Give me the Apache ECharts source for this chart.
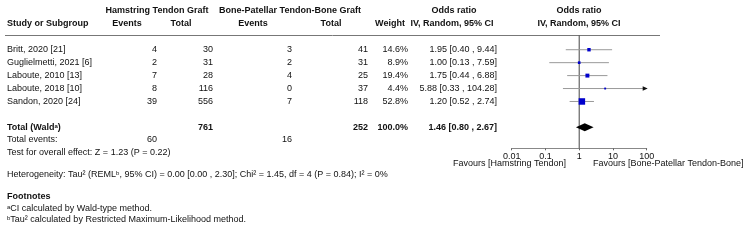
<!DOCTYPE html>
<html>
<head>
<meta charset="utf-8">
<script src="https://cdn.jsdelivr.net/npm/echarts@6/dist/echarts.min.js"></script>
<style>
  html, body { margin: 0; padding: 0; background: #fff; }
  #forest { width: 750px; height: 246px; }
</style>
</head>
<body>
<div id="forest"></div>
<script>
// study rows
const studies = ['Britt, 2020 [21]', 'Guglielmetti, 2021 [6]', 'Laboute, 2010 [13]', 'Laboute, 2018 [10]', 'Sandon, 2020 [24]']
const htEvents = [4, 2, 7, 8, 39]
const htTotal = [30, 31, 28, 116, 556]
const bptbEvents = [3, 2, 4, 0, 7]
const bptbTotal = [41, 31, 25, 37, 118]
const weights = [14.6, 8.9, 19.4, 4.4, 52.8]
const oddsRatio = [1.95, 1.00, 1.75, 5.88, 1.20]
const ciLow = [0.40, 0.13, 0.44, 0.33, 0.52]
const ciHigh = [9.44, 7.59, 6.88, 104.28, 2.74]

// pooled result
const pooled = { or: 1.46, lo: 0.80, hi: 2.67 }
const htTotalAll = 761
const bptbTotalAll = 252
const htEventsAll = 60
const bptbEventsAll = 16

// axis
const axisTicks = [0.01, 0.1, 1, 10, 100]

const FONT = '"Liberation Sans", Arial, Helvetica, sans-serif'
const rowY = [50, 62.9, 75.8, 88.7, 101.6]
const totalY = 127.4

function txt(text, x, y, align, bold) {
  return {
    type: 'text',
    x: x, y: y,
    silent: true,
    style: {
      text: String(text),
      fontSize: 9,
      fontFamily: FONT,
      fontWeight: bold ? 'bold' : 'normal',
      fill: '#111',
      align: align || 'left',
      verticalAlign: 'middle'
    }
  }
}

function fmt(v) { return v.toFixed(2) }

const supRich = {
  sup: { fontSize: 6, fontFamily: FONT, verticalAlign: 'top', fill: '#111' },
  supb: { fontSize: 6, fontFamily: FONT, fontWeight: 'bold', verticalAlign: 'top', fill: '#111' }
}

function richTxt(text, x, y, bold) {
  const t = txt(text, x, y, 'left', bold)
  t.style.rich = supRich
  return t
}

const texts = []
// headers
texts.push(txt('Hamstring Tendon Graft', 157, 11, 'center', true))
texts.push(txt('Bone-Patellar Tendon-Bone Graft', 290, 11, 'center', true))
texts.push(txt('Odds ratio', 454, 11, 'center', true))
texts.push(txt('Odds ratio', 579, 11, 'center', true))
texts.push(txt('Study or Subgroup', 7, 24, 'left', true))
texts.push(txt('Events', 127, 24, 'center', true))
texts.push(txt('Total', 181, 24, 'center', true))
texts.push(txt('Events', 253, 24, 'center', true))
texts.push(txt('Total', 331, 24, 'center', true))
texts.push(txt('Weight', 390, 24, 'center', true))
texts.push(txt('IV, Random, 95% CI', 452, 24, 'center', true))
texts.push(txt('IV, Random, 95% CI', 579, 24, 'center', true))

// rows
studies.forEach((s, i) => {
  const y = rowY[i]
  texts.push(txt(s, 7, y, 'left'))
  texts.push(txt(htEvents[i], 157, y, 'right'))
  texts.push(txt(htTotal[i], 213, y, 'right'))
  texts.push(txt(bptbEvents[i], 292, y, 'right'))
  texts.push(txt(bptbTotal[i], 368, y, 'right'))
  texts.push(txt(weights[i].toFixed(1) + '%', 408, y, 'right'))
  texts.push(txt(fmt(oddsRatio[i]) + ' [' + fmt(ciLow[i]) + ' , ' + fmt(ciHigh[i]) + ']', 497, y, 'right'))
})

// totals
texts.push(richTxt('Total (Wald{supb|a})', 7, totalY, true))
texts.push(txt(htTotalAll, 213, totalY, 'right', true))
texts.push(txt(bptbTotalAll, 368, totalY, 'right', true))
texts.push(txt('100.0%', 408, totalY, 'right', true))
texts.push(txt(fmt(pooled.or) + ' [' + fmt(pooled.lo) + ' , ' + fmt(pooled.hi) + ']', 497, totalY, 'right', true))
texts.push(txt('Total events:', 7, 140, 'left'))
texts.push(txt(htEventsAll, 157, 140, 'right'))
texts.push(txt(bptbEventsAll, 292, 140, 'right'))
texts.push(txt('Test for overall effect: Z = 1.23 (P = 0.22)', 7, 152.5, 'left'))
texts.push(richTxt('Heterogeneity: Tau² (REML{sup|b}, 95% CI) = 0.00 [0.00 , 2.30]; Chi² = 1.45, df = 4 (P = 0.84); I² = 0%', 7, 175))
texts.push(txt('Footnotes', 7, 197, 'left', true))
texts.push(richTxt('{sup|a}CI calculated by Wald-type method.', 7, 208.5))
texts.push(richTxt('{sup|b}Tau² calculated by Restricted Maximum-Likelihood method.', 7, 219.5))

// favours
texts.push(txt('Favours [Hamstring Tendon]', 566, 163.8, 'right'))
texts.push(txt('Favours [Bone-Patellar Tendon-Bone]', 593, 163.8, 'left'))

// header rule
texts.push({
  type: 'line',
  silent: true,
  shape: { x1: 5, y1: 35.5, x2: 660, y2: 35.5 },
  style: { stroke: '#777', lineWidth: 1 }
})

const chart = echarts.init(document.getElementById('forest'), null, { renderer: 'canvas' })

const Y_MIN = -1.1
const Y_MAX = 7.62

const option = {
  animation: false,
  backgroundColor: '#fff',
  grid: { left: 511.7, width: 135, top: 35.5, height: 112.8, containLabel: false },
  xAxis: {
    type: 'log',
    logBase: 10,
    min: axisTicks[0],
    max: axisTicks[axisTicks.length - 1],
    position: 'bottom',
    axisLine: { show: true, onZero: false, lineStyle: { color: '#888', width: 1 } },
    axisTick: { show: true, length: 2, lineStyle: { color: '#666' } },
    minorTick: { show: false },
    splitLine: { show: false },
    axisLabel: {
      margin: 4,
      fontSize: 9,
      fontFamily: FONT,
      color: '#111',
      formatter: v => String(+(+v).toPrecision(3))
    }
  },
  yAxis: {
    type: 'value',
    min: Y_MIN,
    max: Y_MAX,
    inverse: true,
    show: false
  },
  graphic: { elements: texts },
  series: [
    {
      // line of no effect
      type: 'line',
      data: [[1, Y_MIN], [1, Y_MAX]],
      symbol: 'none',
      silent: true,
      lineStyle: { color: '#444', width: 1 },
      z: 1
    },
    {
      // study CIs and squares
      type: 'custom',
      silent: true,
      z: 3,
      data: studies.map((s, i) => [i, oddsRatio[i], ciLow[i], ciHigh[i], weights[i]]),
      encode: { x: [1, 2, 3], y: 0 },
      renderItem(params, api) {
        const idx = api.value(0)
        const hiRaw = api.value(3)
        const p = api.coord([api.value(1), idx])
        const l = api.coord([api.value(2), idx])
        const h = api.coord([Math.min(hiRaw, 100), idx])
        const size = 6.5 * Math.sqrt(api.value(4) / 52.8)
        const children = [
          {
            type: 'line',
            shape: { x1: l[0], y1: l[1], x2: h[0], y2: h[1] },
            style: { stroke: '#999', lineWidth: 1 }
          },
          {
            type: 'rect',
            shape: { x: p[0] - size / 2, y: p[1] - size / 2, width: size, height: size },
            style: { fill: '#0000cc' }
          }
        ]
        if (hiRaw > 100) {
          children.push({
            type: 'polygon',
            shape: { points: [[h[0] - 4, h[1] - 2.2], [h[0] + 1, h[1]], [h[0] - 4, h[1] + 2.2]] },
            style: { fill: '#111' }
          })
        }
        return { type: 'group', children: children }
      }
    },
    {
      // pooled diamond
      type: 'custom',
      silent: true,
      z: 3,
      data: [[6, pooled.or, pooled.lo, pooled.hi]],
      encode: { x: [1, 2, 3], y: 0 },
      renderItem(params, api) {
        const idx = api.value(0)
        const p = api.coord([api.value(1), idx])
        const l = api.coord([api.value(2), idx])
        const h = api.coord([api.value(3), idx])
        return {
          type: 'polygon',
          shape: { points: [[l[0], l[1]], [p[0], p[1] - 4], [h[0], h[1]], [p[0], p[1] + 4]] },
          style: { fill: '#000' }
        }
      }
    }
  ]
}

chart.setOption(option, true)
</script>
</body>
</html>
